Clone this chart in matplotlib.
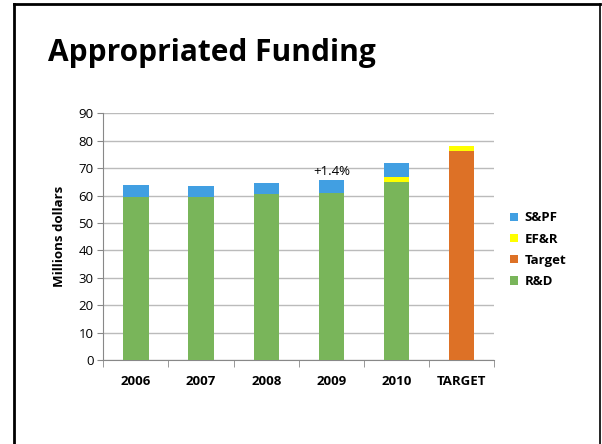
import numpy as np
import matplotlib.pyplot as plt
from matplotlib.lines import Line2D

categories = ['2006', '2007', '2008', '2009', '2010', 'TARGET']
rd = [59.5, 59.5, 60.5, 60.8, 65.0, 0]
target = [0, 0, 0, 0, 0, 76.3]
efr = [0, 0, 0, 0, 1.9, 1.9]
spf = [4.2, 4.1, 4.2, 4.9, 5.0, 0]

col_rd = '#79B55A'
col_target = '#DD7126'
col_efr = '#FFFF00'
col_spf = '#419FE2'

plt.rcParams['font.family'] = ['Open Sans', 'DejaVu Sans']

fig = plt.figure(figsize=(6.02, 4.44), dpi=100)
ax = fig.add_axes([0.1716, 0.1892, 0.6495, 0.5556])

x = np.arange(len(categories))
w = 0.39
b1 = np.array(rd)
b2 = b1 + np.array(target)
b3 = b2 + np.array(efr)
ax.bar(x, rd, w, color=col_rd, label='R&D', zorder=3)
ax.bar(x, target, w, bottom=b1, color=col_target, label='Target', zorder=3)
ax.bar(x, efr, w, bottom=b2, color=col_efr, label='EF&R', zorder=3)
ax.bar(x, spf, w, bottom=b3, color=col_spf, label='S&PF', zorder=3)

ax.text(3, 66.5, '+1.4%', ha='center', va='bottom', fontsize=9.5)

ax.set_xlim(-0.5, 5.5)
ax.set_ylim(0, 90)
ax.set_yticks(range(0, 91, 10))
ax.yaxis.grid(True, color='#BBBBBB', linewidth=1.0, zorder=0)
ax.set_axisbelow(True)
for s in ['top', 'right']:
    ax.spines[s].set_visible(False)
for s in ['left', 'bottom']:
    ax.spines[s].set_color('#888888')
ax.tick_params(axis='y', length=4, color='#888888', labelsize=9.5, pad=3)
ax.set_xticks(x)
ax.set_xticklabels(categories, fontweight='bold', fontsize=9.5)
ax.tick_params(axis='x', length=0, pad=11)
ax.set_xticks(np.arange(-0.5, 6, 1), minor=True)
ax.tick_params(axis='x', which='minor', length=5, color='#888888')
ax.set_ylabel('Millions dollars', fontweight='bold', fontsize=9.5, labelpad=9)

h, l = ax.get_legend_handles_labels()
ax.legend(h[::-1], l[::-1], loc='center left', bbox_to_anchor=(1.01, 0.447),
          frameon=False, prop={'weight': 'bold', 'size': 9.5},
          handlelength=0.6, handleheight=0.6, handletextpad=0.5, labelspacing=0.62)

fig.text(0.079, 0.862, 'Appropriated Funding', fontsize=21.5, fontweight='bold',
         ha='left', va='baseline')

# slide border
fig.add_artist(Line2D([13.5 / 602, 13.5 / 602], [0, 1 - 4 / 444], transform=fig.transFigure, color='black', lw=2))
fig.add_artist(Line2D([13.5 / 602, 599.5 / 602], [1 - 4 / 444, 1 - 4 / 444], transform=fig.transFigure, color='black', lw=2))
fig.add_artist(Line2D([599.5 / 602, 599.5 / 602], [0, 1 - 4 / 444], transform=fig.transFigure, color='black', lw=1.2))

fig.savefig('out.png', dpi=100)
